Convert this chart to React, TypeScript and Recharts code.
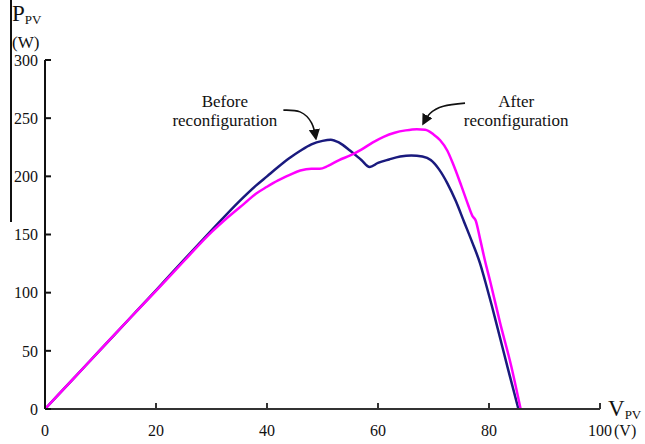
import React from "react";
import {
  LineChart,
  Line,
  XAxis,
  YAxis,
  ReferenceDot,
} from "recharts";

// "Before reconfiguration" curve (V, W)
const beforeV = [0, 5, 10, 15, 20, 25, 30, 35, 38, 40, 42, 44, 46, 48, 50, 51.5, 53, 55, 57, 58.5, 60, 62, 64, 66, 68, 69.5, 71, 72.5, 74, 75.5, 77, 78.4, 79.3, 80.5, 82, 83.5, 85.3];
const beforeP = [0, 25.5, 51, 76.5, 102, 128, 153.5, 178.5, 192, 200, 208, 215.5, 222, 227.5, 230.5, 231.5, 229, 222, 214, 208, 211.5, 214.5, 217, 218, 217, 214, 206, 194, 179, 161, 143, 125, 110, 89, 61, 33, 0];

// "After reconfiguration" curve
const afterV = [0, 5, 10, 15, 20, 25, 30, 33, 36, 38, 40, 42, 44, 46, 48, 49.5, 51, 53, 55, 57, 59, 61, 63, 65, 67, 68.5, 70, 71.2, 72.5, 73.5, 75, 76.2, 77, 77.6, 78.4, 79.3, 80.2, 82, 84, 85.7];
const afterP = [0, 25.5, 51, 76.5, 101.5, 127, 152, 165, 177, 185, 191, 196.5, 201, 205, 206.5, 206.5, 209, 214, 218, 223, 229, 234, 237.5, 239.5, 240.5, 240, 236, 231, 222, 211, 192, 176, 166, 162, 146, 127, 110, 74, 37, 0];

const xTicks = [0, 20, 40, 60, 80, 100];
const yTicks = [0, 50, 100, 150, 200, 250, 300];

// annotation texts and arrows, in data units
const beforeLabel = { v: 32.4, lines: ["Before", "reconfiguration"], p: [259.5, 243] };
const afterLabel = { v: 84.9, lines: ["After", "reconfiguration"], p: [259.5, 243] };
const beforeArrowV = [42.95, 45.95, 48.05, 48.8];
const beforeArrowP = [256.9, 255.4, 245.7, 232.8];
const afterArrowV = [75.68, 71.77, 69.37, 68.16];
const afterArrowP = [262.9, 260.3, 254, 245.4];

const zip = (vs: number[], ps: number[]) => vs.map((v, i) => ({ v, p: ps[i] }));

const beforeData = zip(beforeV, beforeP);
const afterData = zip(afterV, afterP);
const beforeArrow = zip(beforeArrowV, beforeArrowP);
const afterArrow = zip(afterArrowV, afterArrowP);

const FONT = "'Liberation Serif', 'Times New Roman', serif";

const XTick = (props: any) => {
  const { x, y, payload } = props;
  return (
    <g>
      <text x={x} y={y} dy="0.71em" textAnchor="middle" fontFamily={FONT} fontSize={16} fill="#111">
        {payload.value}
      </text>
      {payload.value === 100 && (
        <text x={x + 14} y={y} dy="0.71em" textAnchor="start" fontFamily={FONT} fontSize={16} fill="#111">
          (V)
        </text>
      )}
    </g>
  );
};

const annotation = (text: string) => (props: any) => (
  <text x={props.cx} y={props.cy} textAnchor="middle" fontFamily={FONT} fontSize={17} fill="#111">
    {text}
  </text>
);

export default function App() {
  return (
    <div style={{ position: "relative", width: 645, height: 444, background: "#fff" }}>
      <style>{"body{margin:0}"}</style>
      <div style={{ position: "absolute", left: 10, top: 0, width: 1.5, height: 222, background: "#111" }} />
      <LineChart width={645} height={444} margin={{ top: 60, right: 45, left: 0, bottom: 0 }}>
        <defs>
          <marker id="arrowHead" viewBox="0 0 10 10" refX="8" refY="5" markerWidth="7" markerHeight="7" orient="auto">
            <path d="M0,0 L10,5 L0,10 z" fill="#111" />
          </marker>
        </defs>
        <XAxis
          type="number"
          dataKey="v"
          domain={[0, 100]}
          ticks={xTicks}
          height={35}
          stroke="#333"
          strokeWidth={2}
          tickSize={-6}
          tickMargin={22}
          tick={<XTick />}
          label={(props: any) => {
            const vb = props.viewBox;
            return (
              <text x={vb.x + vb.width + 8} y={vb.y + 7} fontFamily={FONT} fill="#111">
                <tspan fontSize={23}>V</tspan>
                <tspan fontSize={13} dy={3}>PV</tspan>
              </text>
            );
          }}
        />
        <YAxis
          type="number"
          domain={[0, 300]}
          ticks={yTicks}
          width={45}
          stroke="#111"
          strokeWidth={2}
          tickSize={-6}
          tickMargin={13}
          tick={{ fontFamily: FONT, fontSize: 16, fill: "#111" }}
          label={(props: any) => {
            const vb = props.viewBox;
            return (
              <g fontFamily={FONT} fill="#111">
                <text x={vb.x + 12} y={vb.y - 39}>
                  <tspan fontSize={23}>P</tspan>
                  <tspan fontSize={13} dy={3}>PV</tspan>
                </text>
                <text x={vb.x + 12} y={vb.y - 12} fontSize={17}>(W)</text>
              </g>
            );
          }}
        />
        <Line
          data={beforeData}
          dataKey="p"
          type="monotone"
          stroke="#1a1a7e"
          strokeWidth={2.5}
          dot={false}
          activeDot={false}
          isAnimationActive={false}
        />
        <Line
          data={afterData}
          dataKey="p"
          type="monotone"
          stroke="#ff00ff"
          strokeWidth={2.5}
          dot={false}
          activeDot={false}
          isAnimationActive={false}
        />
        <Line
          data={beforeArrow}
          dataKey="p"
          type="natural"
          stroke="#111"
          strokeWidth={1.6}
          markerEnd="url(#arrowHead)"
          dot={false}
          activeDot={false}
          isAnimationActive={false}
        />
        <Line
          data={afterArrow}
          dataKey="p"
          type="natural"
          stroke="#111"
          strokeWidth={1.6}
          markerEnd="url(#arrowHead)"
          dot={false}
          activeDot={false}
          isAnimationActive={false}
        />
        {beforeLabel.lines.map((t, i) => (
          <ReferenceDot key={"b" + i} x={beforeLabel.v} y={beforeLabel.p[i]} r={0} shape={annotation(t)} />
        ))}
        {afterLabel.lines.map((t, i) => (
          <ReferenceDot key={"a" + i} x={afterLabel.v} y={afterLabel.p[i]} r={0} shape={annotation(t)} />
        ))}
      </LineChart>
    </div>
  );
}
